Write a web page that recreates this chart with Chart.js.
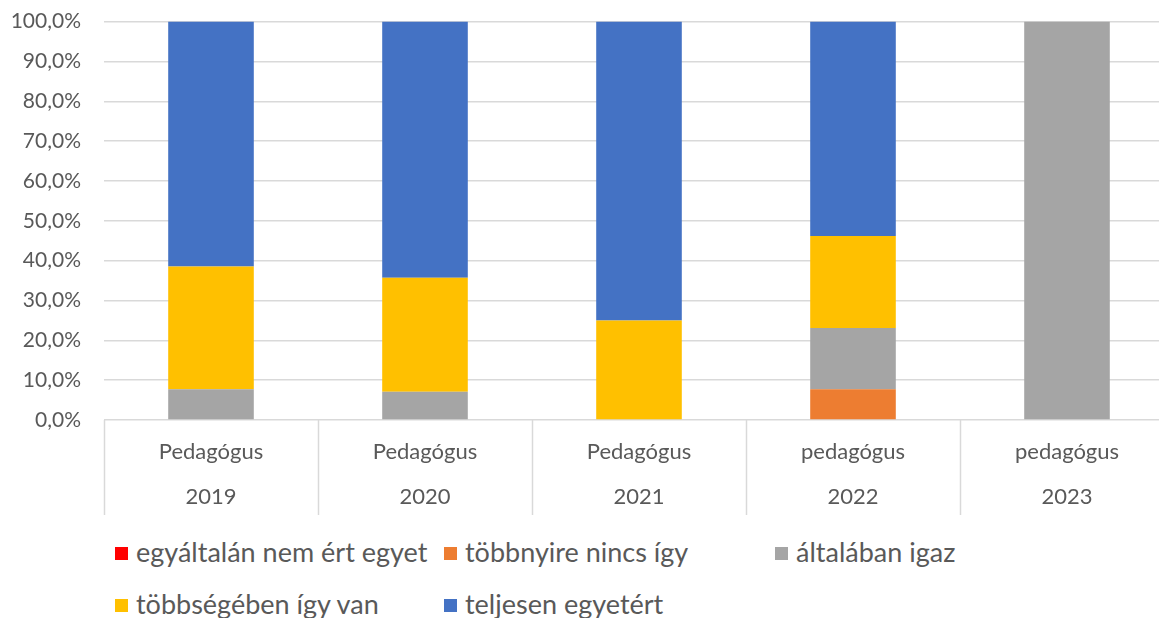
<!DOCTYPE html>
<html>
<head>
<meta charset="utf-8">
<script src="https://cdn.jsdelivr.net/npm/chart.js@4/dist/chart.umd.min.js"></script>
<style>
  html, body { margin: 0; padding: 0; background: #fff; overflow: hidden; width: 1159px; height: 618px; position: relative; }
  #wrap { position: absolute; left: 0; top: -14px; width: 1180px; height: 534px; }
  .leg { position: absolute; font-family: Lato, sans-serif; font-size: 27px; color: #595959; white-space: nowrap; line-height: 30px; }
  .leg span.sw { display: inline-block; width: 13px; height: 13px; margin-right: 8px; vertical-align: 2px; }
</style>
</head>
<body>
<div id="wrap"><canvas id="c" width="1180" height="534"></canvas></div>
<div id="legend"></div>
<script>
const categories = [["Pedagógus","2019"],["Pedagógus","2020"],["Pedagógus","2021"],["pedagógus","2022"],["pedagógus","2023"]];
const seriesNames = ["egyáltalán nem ért egyet","többnyire nincs így","általában igaz","többségében így van","teljesen egyetért"];
const seriesColors = ["#FF0000","#ED7D31","#A5A5A5","#FFC000","#4472C4"];
const nemErt      = [0, 0, 0, 0, 0];
const tobbnyire   = [0, 0, 0, 7.7, 0];
const altalaban   = [7.7, 7.1, 0, 15.4, 100];
const tobbsegeben = [30.8, 28.6, 25.0, 23.1, 0];
const teljesen    = [61.5, 64.3, 75.0, 53.8, 0];
const yTicks = [0,10,20,30,40,50,60,70,80,90,100];

const seriesValues = [nemErt, tobbnyire, altalaban, tobbsegeben, teljesen];
const FONT = 'Lato, sans-serif';
const TXT = '#595959';
const GRID = '#d9d9d9';

const separators = {
  id: 'separators',
  afterDraw(chart) {
    const xs = chart.scales.x;
    const n = categories.length;
    const w = xs.width / n;
    const ctx = chart.ctx;
    ctx.save();
    ctx.strokeStyle = GRID;
    ctx.lineWidth = 1.5;
    for (let i = 0; i <= n; i++) {
      const x = Math.round(xs.left + i * w) + 0.5;
      ctx.beginPath();
      ctx.moveTo(x, chart.chartArea.bottom);
      ctx.lineTo(x, chart.chartArea.bottom + 95);
      ctx.stroke();
    }
    ctx.restore();
  }
};

new Chart(document.getElementById('c'), {
  type: 'bar',
  data: {
    labels: categories,
    datasets: seriesNames.map((name, i) => ({
      label: name,
      data: seriesValues[i],
      backgroundColor: seriesColors[i],
      borderWidth: 0,
      categoryPercentage: 1.0,
      barPercentage: 0.4
    }))
  },
  options: {
    responsive: false,
    animation: false,
    layout: { padding: { top: 7, right: 6, left: 0, bottom: 0 } },
    plugins: { legend: { display: false }, tooltip: { enabled: false } },
    scales: {
      x: {
        stacked: true,
        grid: { display: true, drawOnChartArea: false, drawTicks: false, color: GRID },
        border: { display: false },
        ticks: { color: TXT, font: { family: FONT, size: 22, lineHeight: 2.05 }, padding: 9, maxRotation: 0, autoSkip: false },
        afterFit(s) { s.height = 100; }
      },
      y: {
        stacked: true,
        min: 0, max: 100,
        afterBuildTicks(s) { s.ticks = yTicks.map(v => ({ value: v })); },
        grid: { color: GRID, lineWidth: 1.5, drawTicks: false },
        border: { display: false },
        ticks: {
          color: TXT, font: { family: FONT, size: 21 }, padding: 23,
          callback: v => v.toFixed(1).replace('.', ',') + '%'
        },
        afterFit(s) { s.width = 104; }
      }
    }
  },
  plugins: [separators]
});

// legend (HTML, real text)
const legPos = [[115, 537], [444, 537], [775, 537], [115, 589], [444, 589]];
const legEl = document.getElementById('legend');
seriesNames.forEach((name, i) => {
  const d = document.createElement('div');
  d.className = 'leg';
  d.style.left = legPos[i][0] + 'px';
  d.style.top = legPos[i][1] + 'px';
  const sw = document.createElement('span');
  sw.className = 'sw';
  sw.style.background = seriesColors[i];
  d.appendChild(sw);
  d.appendChild(document.createTextNode(name));
  legEl.appendChild(d);
});
</script>
</body>
</html>
